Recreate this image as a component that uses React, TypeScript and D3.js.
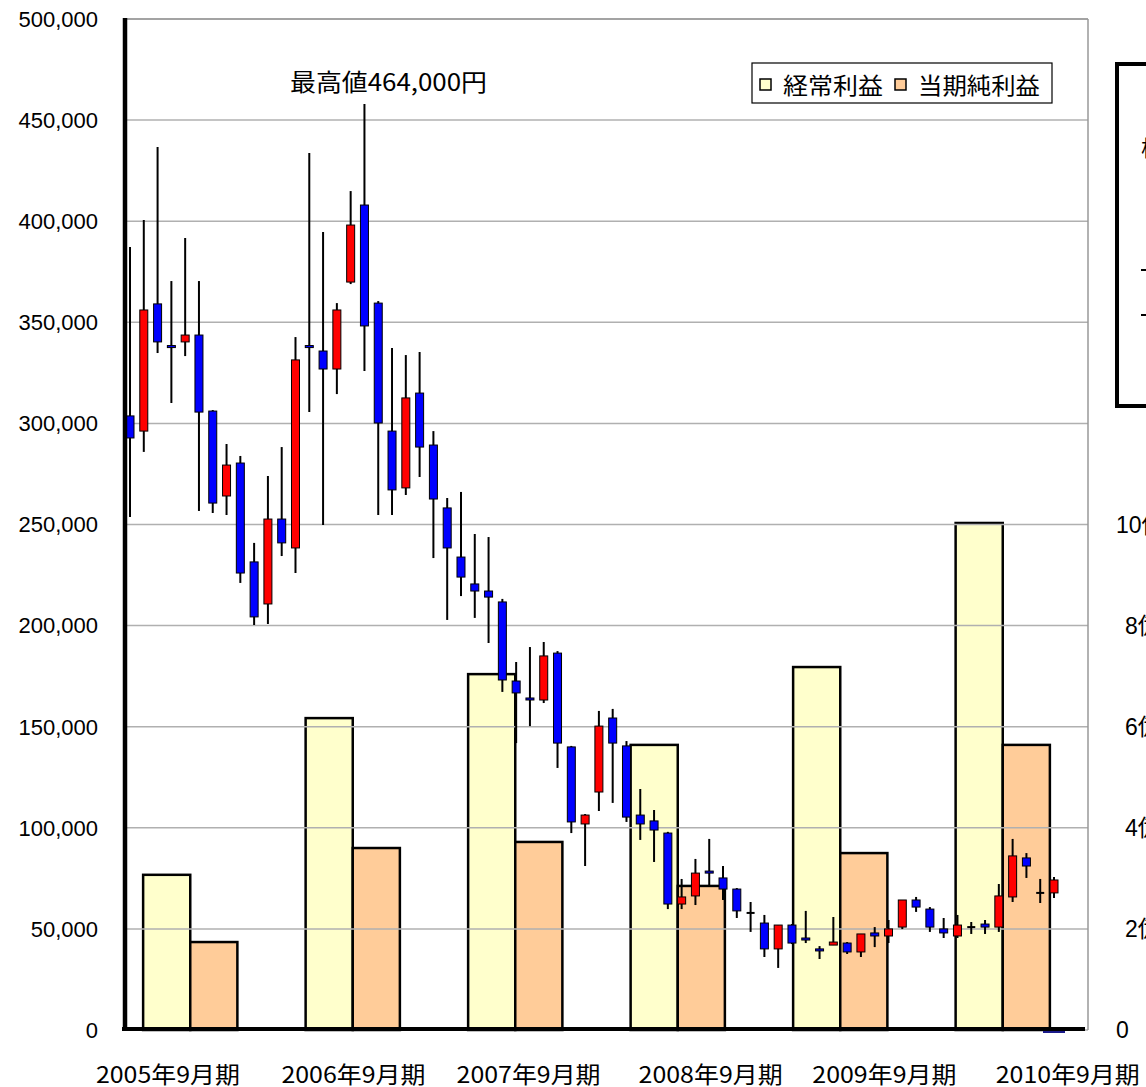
import React from "react";
import * as d3 from "d3";

// ---- data ----
const periods = ["2005年9月期", "2006年9月期", "2007年9月期", "2008年9月期", "2009年9月期", "2010年9月期"];
// 億円
const ordinaryProfit = [3.07, 6.17, 7.04, 5.64, 7.18, 10.03];
const netProfit = [1.74, 3.6, 3.72, 2.85, 3.5, 5.64];

// stock price candles (千円)
const opens = [303.7, 296.2, 359.1, 338.5, 340.3, 343.7, 306.1, 264.1, 280.4, 231.5, 210.7, 252.7, 238.4, 338.5, 335.8, 326.9, 369.9, 408.0, 359.5, 296.2, 268.1, 315.0, 289.3, 258.2, 233.9, 220.6, 217.1, 211.7, 172.6, 164.2, 163.2, 186.4, 140.0, 101.9, 117.7, 154.3, 140.5, 106.3, 103.4, 97.4, 62.3, 66.3, 78.6, 75.2, 69.7, 57.9, 52.9, 40.1, 51.9, 45.5, 40.1, 42.0, 43.0, 38.6, 48.0, 46.5, 50.9, 64.3, 59.8, 50.0, 46.5, 50.9, 52.4, 50.9, 65.8, 85.1, 67.8, 67.8];
const highs = [387.2, 400.6, 436.7, 370.4, 391.7, 370.4, 306.6, 289.8, 283.9, 240.9, 274.0, 288.3, 342.7, 433.7, 394.7, 359.5, 414.9, 458.0, 360.5, 337.3, 333.8, 335.3, 296.2, 263.1, 266.1, 245.3, 243.8, 213.2, 182.0, 189.4, 191.9, 187.4, 140.5, 106.8, 157.8, 158.8, 142.9, 119.2, 108.8, 98.0, 74.7, 84.6, 94.5, 81.1, 70.2, 63.3, 56.9, 51.9, 52.4, 58.9, 41.5, 55.9, 43.5, 47.5, 50.9, 54.4, 64.3, 65.8, 60.8, 55.4, 56.9, 53.4, 54.4, 72.2, 94.5, 87.5, 74.7, 75.7];
const lows = [253.7, 285.9, 334.8, 310.1, 333.3, 256.7, 255.7, 254.7, 221.1, 200.3, 200.8, 234.4, 226.0, 305.6, 249.8, 314.5, 368.9, 325.9, 254.7, 254.7, 264.6, 273.5, 233.4, 202.8, 214.6, 203.8, 191.4, 167.2, 141.9, 150.3, 161.7, 129.6, 97.4, 81.1, 108.3, 112.3, 102.9, 94.0, 83.1, 59.8, 59.8, 61.8, 71.2, 64.3, 55.4, 48.5, 36.1, 30.7, 42.5, 43.0, 35.1, 42.0, 37.6, 36.1, 41.0, 43.0, 49.9, 58.4, 48.5, 45.5, 45.5, 47.5, 47.5, 48.5, 63.3, 75.2, 62.8, 65.3];
const closes = [292.8, 356.1, 340.3, 337.5, 343.7, 305.6, 260.6, 279.4, 226.0, 204.3, 252.7, 240.9, 331.4, 337.5, 326.9, 356.1, 398.1, 348.2, 300.2, 267.1, 312.6, 288.3, 262.6, 238.4, 224.0, 217.1, 214.1, 173.1, 166.7, 163.7, 185.0, 141.9, 102.9, 106.3, 150.3, 141.9, 105.3, 101.9, 98.9, 62.3, 65.8, 77.6, 77.6, 69.7, 58.9, 57.9, 40.1, 51.9, 43.0, 44.5, 39.1, 43.5, 38.6, 47.5, 46.5, 50.0, 64.3, 60.8, 50.9, 48.0, 51.9, 50.9, 50.9, 66.3, 86.1, 81.1, 67.8, 74.2];
const UNIT = 1000;

const leftTicks = [0, 50000, 100000, 150000, 200000, 250000, 300000, 350000, 400000, 450000, 500000];
const rightTicks = [0, 2, 4, 6, 8, 10];
// x-axis label positions on candle index scale
const periodLabelPos = [2.75, 16.2, 28.9, 42.1, 54.7, 68.0];
const legendLabels = ["経常利益", "当期純利益"];
const peakLabel = "最高値464,000円";

const W = 1146;
const H = 1087;
const JP = "'Noto Sans CJK JP', 'Noto Sans', sans-serif";
const LAT = "'Liberation Sans', Arial, sans-serif";

export default function App() {
  const y = d3.scaleLinear().domain([0, 500000]).range([1030, 19]);
  const yOku = d3.scaleLinear().domain([0, 20]).range([1030, 19]);
  const xC = d3.scaleLinear().domain([0, opens.length - 1]).range([130, 1054]);
  const xB = d3
    .scaleBand<string>()
    .domain(periods)
    .range([109, 1084])
    .paddingInner(0.42)
    .paddingOuter(0.21);
  const bw = xB.bandwidth() / 2;
  const left = 125;
  const right = 1088;
  const top = y(500000);
  const bottom = y(0);
  const fmt = d3.format(",");
  const bodyW = 8;

  return (
    <svg
      width={W}
      height={H}
      style={{ position: "absolute", left: 0, top: 0, background: "#fff" }}
    >
      <rect x={0} y={0} width={W} height={H} fill="#fff" />
      {/* bars */}
      {periods.map((p, i) => (
        <g key={p}>
          <rect
            x={xB(p)!}
            y={yOku(ordinaryProfit[i])}
            width={bw}
            height={bottom - yOku(ordinaryProfit[i])}
            fill="#FFFFCC"
            stroke="#000"
            strokeWidth={2.5}
          />
          <rect
            x={xB(p)! + bw}
            y={yOku(netProfit[i])}
            width={bw}
            height={bottom - yOku(netProfit[i])}
            fill="#FFCC99"
            stroke="#000"
            strokeWidth={2.5}
          />
        </g>
      ))}
      {/* gridlines */}
      {leftTicks.map((t) => (
        <line key={t} x1={left} x2={right} y1={y(t)} y2={y(t)} stroke="#b0b0b0" strokeWidth={1.5} />
      ))}
      <line x1={right} x2={right} y1={top} y2={bottom} stroke="#999" strokeWidth={1.5} />
      <line x1={left} x2={right} y1={top} y2={top} stroke="#999" strokeWidth={1.5} />
      {/* candles */}
      {opens.map((o, i) => {
        const cx = xC(i);
        const c = closes[i];
        const yo = y(o * UNIT);
        const yc = y(c * UNIT);
        const yh = y(highs[i] * UNIT);
        const yl = y(lows[i] * UNIT);
        const color = c > o ? "#FF0000" : c < o ? "#0000FF" : null;
        return (
          <g key={i}>
            <line x1={cx} x2={cx} y1={yh} y2={yl} stroke="#000" strokeWidth={2} />
            {color ? (
              <rect
                x={cx - bodyW / 2}
                y={Math.min(yo, yc)}
                width={bodyW}
                height={Math.max(Math.abs(yc - yo), 2)}
                fill={color}
                stroke="#000"
                strokeWidth={1}
              />
            ) : (
              <line x1={cx - bodyW / 2} x2={cx + bodyW / 2} y1={yo} y2={yo} stroke="#000" strokeWidth={2} />
            )}
          </g>
        );
      })}
      {/* axes */}
      <line x1={left} x2={left} y1={top - 1} y2={bottom + 1} stroke="#000" strokeWidth={4.5} />
      <line x1={122} x2={1085} y1={bottom - 1} y2={bottom - 1} stroke="#000" strokeWidth={4} />
      <line x1={1043} x2={1065} y1={bottom + 2} y2={bottom + 2} stroke="#1a1a8a" strokeWidth={2} />
      {/* left tick labels */}
      {leftTicks.map((t) => (
        <text
          key={t}
          x={98}
          y={y(t) + 2}
          textAnchor="end"
          dominantBaseline="middle"
          fontFamily={LAT}
          fontSize={22}
          fill="#000"
        >
          {fmt(t)}
        </text>
      ))}
      {/* right tick labels */}
      {rightTicks.map((t) => (
        <text
          key={t}
          x={t > 0 && t < 10 ? 1125 : 1116}
          y={yOku(t) + 2}
          dominantBaseline="middle"
          fontFamily={LAT + ", " + JP}
          fontSize={23}
          fill="#000"
        >
          {t === 0 ? "0" : t + "億"}
        </text>
      ))}
      {/* x labels */}
      {periods.map((p, i) => (
        <text
          key={p}
          x={xC(periodLabelPos[i])}
          y={1083}
          textAnchor="middle"
          fontFamily={JP}
          fontSize={23}
          textLength={144}
          lengthAdjust="spacingAndGlyphs"
          fill="#000"
        >
          {p}
        </text>
      ))}
      {/* peak annotation */}
      <text
        x={290}
        y={91}
        fontFamily={JP}
        fontSize={24}
        textLength={197}
        lengthAdjust="spacingAndGlyphs"
        fill="#000"
      >
        {peakLabel}
      </text>
      {/* legend */}
      <rect x={752} y={63} width={300} height={40} fill="#fff" stroke="#000" strokeWidth={1.2} />
      <rect x={760} y={79} width={11} height={11} fill="#FFFFCC" stroke="#000" strokeWidth={1.5} />
      <text x={783} y={94} fontFamily={JP} fontSize={23} textLength={100} lengthAdjust="spacingAndGlyphs">
        {legendLabels[0]}
      </text>
      <rect x={895} y={79} width={11} height={11} fill="#FFCC99" stroke="#000" strokeWidth={1.5} />
      <text x={918} y={94} fontFamily={JP} fontSize={23} textLength={122} lengthAdjust="spacingAndGlyphs">
        {legendLabels[1]}
      </text>
      {/* right box (cut off) */}
      <rect x={1117} y={64} width={80} height={342} fill="#fff" stroke="#000" strokeWidth={4} />
      <text x={1141} y={156} fontFamily={JP} fontSize={22} fill="#000">
        株価
      </text>
      <line x1={1141} x2={1150} y1={270} y2={270} stroke="#000" strokeWidth={2} />
      <line x1={1141} x2={1150} y1={315} y2={315} stroke="#000" strokeWidth={2} />
    </svg>
  );
}
